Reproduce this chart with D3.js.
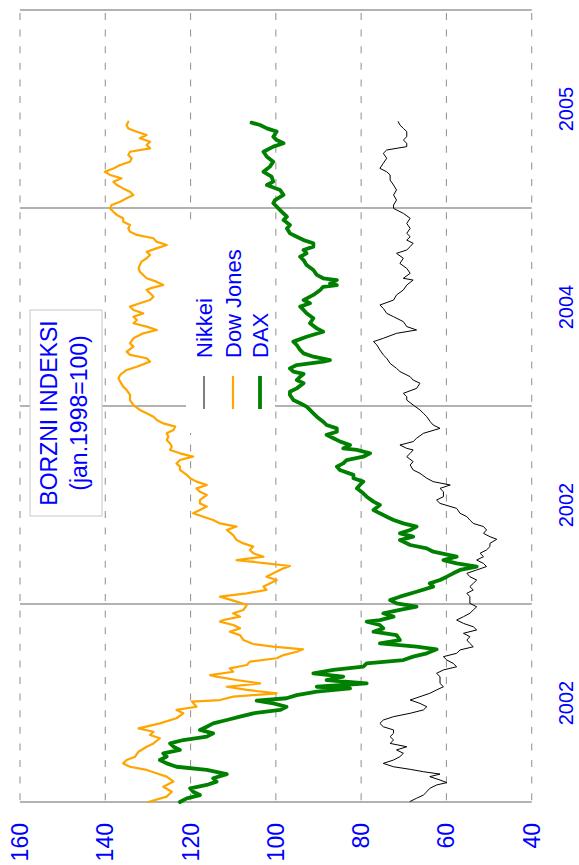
<!DOCTYPE html>
<html><head><meta charset="utf-8">
<script src="https://cdn.jsdelivr.net/npm/d3@7"></script>
<style>body{margin:0;background:#fff}svg{display:block}</style>
</head><body><svg id="c" width="579" height="865"></svg>
<script>
const valueTicks = [160,140,120,100,80,60,40];
const yearBounds = [2001,2002,2003,2004,2005];
const yearLabels = ["2002","2002","2004","2005"];
const legendNames = ["Nikkei","Dow Jones","DAX"];
const seriesColors = ["#000000","#FFA500","#008000"];
const titleLines = ["BORZNI INDEKSI","(jan.1998=100)"];

const nikkei = [[2001.003,68.5],[2001.019,67.0],[2001.035,65.4],[2001.052,64.6],[2001.069,63.9],[2001.086,62.3],[2001.098,59.9],[2001.111,61.5],[2001.128,63.9],[2001.141,61.5],[2001.153,65.4],[2001.165,68.5],[2001.178,72.4],[2001.195,74.8],[2001.212,72.4],[2001.229,70.9],[2001.246,70.1],[2001.263,71.7],[2001.279,69.3],[2001.296,73.2],[2001.313,72.4],[2001.330,73.2],[2001.347,72.4],[2001.364,72.4],[2001.380,74.8],[2001.397,75.6],[2001.414,74.8],[2001.431,72.4],[2001.448,68.5],[2001.465,65.4],[2001.481,64.6],[2001.498,66.2],[2001.515,68.5],[2001.532,66.2],[2001.549,63.9],[2001.566,62.3],[2001.582,60.7],[2001.599,61.5],[2001.616,61.5],[2001.633,61.5],[2001.650,62.3],[2001.667,60.7],[2001.683,57.6],[2001.700,58.4],[2001.717,59.9],[2001.734,60.7],[2001.751,57.6],[2001.768,56.8],[2001.784,53.7],[2001.801,54.5],[2001.818,55.2],[2001.835,54.5],[2001.852,56.0],[2001.869,52.9],[2001.885,53.7],[2001.902,56.0],[2001.919,57.6],[2001.936,56.0],[2001.953,54.5],[2001.970,53.7],[2001.986,52.9],[2002.003,54.5],[2002.020,54.5],[2002.037,54.5],[2002.054,55.2],[2002.071,53.7],[2002.088,54.5],[2002.104,53.7],[2002.121,52.9],[2002.138,54.5],[2002.155,55.2],[2002.172,52.9],[2002.189,50.6],[2002.205,51.3],[2002.222,52.9],[2002.239,51.3],[2002.256,52.1],[2002.273,50.6],[2002.290,49.8],[2002.306,49.8],[2002.327,48.2],[2002.340,49.8],[2002.357,51.3],[2002.374,50.6],[2002.391,51.3],[2002.407,53.7],[2002.424,54.5],[2002.441,55.2],[2002.458,56.8],[2002.483,57.6],[2002.508,61.5],[2002.525,62.3],[2002.542,60.7],[2002.567,60.7],[2002.584,61.5],[2002.601,59.1],[2002.618,63.1],[2002.635,64.6],[2002.660,66.2],[2002.677,67.8],[2002.702,68.5],[2002.719,67.8],[2002.744,69.3],[2002.761,68.5],[2002.778,67.8],[2002.786,69.3],[2002.803,70.9],[2002.820,67.8],[2002.837,67.0],[2002.862,65.4],[2002.887,61.5],[2002.904,63.1],[2002.921,63.8],[2002.946,64.6],[2002.963,65.4],[2002.980,66.2],[2003.005,67.8],[2003.030,69.3],[2003.047,69.3],[2003.064,70.1],[2003.089,67.0],[2003.115,66.2],[2003.131,67.8],[2003.148,68.5],[2003.174,70.9],[2003.190,71.7],[2003.215,73.2],[2003.241,74.0],[2003.258,74.8],[2003.283,75.6],[2003.308,76.3],[2003.325,77.1],[2003.342,74.8],[2003.367,71.7],[2003.384,67.0],[2003.401,69.3],[2003.426,70.1],[2003.451,72.4],[2003.468,74.0],[2003.493,74.8],[2003.510,75.6],[2003.535,72.4],[2003.561,71.7],[2003.586,70.1],[2003.611,69.3],[2003.636,67.8],[2003.645,70.1],[2003.670,68.5],[2003.695,69.3],[2003.720,70.9],[2003.746,70.1],[2003.771,71.7],[2003.788,69.3],[2003.805,68.5],[2003.822,67.8],[2003.838,69.3],[2003.855,68.5],[2003.872,69.3],[2003.897,68.5],[2003.922,69.3],[2003.948,68.5],[2003.973,70.1],[2003.998,72.4],[2004.015,72.4],[2004.040,71.7],[2004.066,72.4],[2004.091,71.7],[2004.116,72.4],[2004.141,73.2],[2004.167,73.2],[2004.183,74.0],[2004.200,75.6],[2004.226,74.8],[2004.251,74.0],[2004.276,74.8],[2004.293,74.0],[2004.310,69.3],[2004.327,69.3],[2004.343,70.1],[2004.360,69.3],[2004.386,69.3],[2004.402,70.1],[2004.419,70.9],[2004.436,71.3]];

const dowJones = [[2001.000,129.9],[2001.027,125.6],[2001.052,124.4],[2001.077,126.4],[2001.103,124.0],[2001.128,125.6],[2001.145,128.0],[2001.162,130.3],[2001.178,134.2],[2001.195,135.8],[2001.212,135.0],[2001.229,133.0],[2001.254,132.2],[2001.279,130.3],[2001.296,128.7],[2001.322,127.2],[2001.338,129.5],[2001.355,128.7],[2001.372,132.2],[2001.397,127.2],[2001.423,123.3],[2001.448,121.7],[2001.465,123.3],[2001.481,118.6],[2001.507,119.7],[2001.515,113.1],[2001.532,110.0],[2001.549,99.8],[2001.566,106.8],[2001.582,111.5],[2001.599,103.7],[2001.616,109.2],[2001.633,113.9],[2001.641,115.4],[2001.658,110.0],[2001.675,110.8],[2001.692,106.8],[2001.709,106.1],[2001.726,99.8],[2001.742,98.2],[2001.759,95.1],[2001.771,93.6],[2001.785,100.6],[2001.798,105.3],[2001.818,107.6],[2001.843,108.4],[2001.860,110.8],[2001.877,108.4],[2001.894,110.0],[2001.911,113.1],[2001.919,112.3],[2001.936,108.4],[2001.953,110.0],[2001.970,107.6],[2001.995,106.8],[2002.012,109.2],[2002.037,113.1],[2002.054,106.8],[2002.071,102.2],[2002.088,102.9],[2002.104,101.4],[2002.121,99.8],[2002.138,102.2],[2002.155,100.6],[2002.180,98.2],[2002.192,96.7],[2002.205,102.2],[2002.222,109.2],[2002.239,102.9],[2002.256,105.3],[2002.273,106.1],[2002.290,105.3],[2002.306,107.6],[2002.323,109.2],[2002.348,110.0],[2002.374,111.5],[2002.391,109.2],[2002.407,113.1],[2002.424,114.7],[2002.441,117.0],[2002.458,119.4],[2002.475,117.8],[2002.492,116.2],[2002.508,117.8],[2002.525,117.8],[2002.551,116.2],[2002.567,117.8],[2002.584,118.6],[2002.601,116.2],[2002.618,118.6],[2002.635,120.1],[2002.652,120.9],[2002.677,122.5],[2002.694,122.5],[2002.710,123.3],[2002.727,122.5],[2002.744,119.4],[2002.761,122.5],[2002.778,124.8],[2002.795,124.4],[2002.811,124.8],[2002.828,125.6],[2002.845,125.2],[2002.862,125.6],[2002.879,124.0],[2002.896,123.6],[2002.912,126.4],[2002.929,127.9],[2002.946,128.7],[2002.963,130.3],[2002.980,131.9],[2003.005,133.4],[2003.030,134.2],[2003.056,134.2],[2003.081,135.0],[2003.098,135.8],[2003.123,136.5],[2003.140,136.9],[2003.157,136.5],[2003.182,135.0],[2003.198,132.6],[2003.224,129.5],[2003.241,130.3],[2003.258,134.2],[2003.274,135.0],[2003.300,133.4],[2003.317,134.2],[2003.342,133.4],[2003.367,131.1],[2003.384,127.9],[2003.401,130.3],[2003.418,133.4],[2003.434,132.6],[2003.451,133.4],[2003.468,131.1],[2003.485,133.4],[2003.502,134.2],[2003.519,131.9],[2003.535,129.5],[2003.552,128.7],[2003.569,129.5],[2003.586,130.3],[2003.594,129.5],[2003.611,126.4],[2003.628,128.0],[2003.645,130.3],[2003.662,131.1],[2003.678,131.9],[2003.695,132.2],[2003.712,131.9],[2003.729,131.5],[2003.746,130.3],[2003.763,129.5],[2003.779,130.3],[2003.796,128.0],[2003.813,125.6],[2003.830,128.0],[2003.847,128.7],[2003.864,132.6],[2003.880,134.2],[2003.897,134.6],[2003.914,134.2],[2003.931,135.8],[2003.948,135.8],[2003.965,137.3],[2003.981,138.1],[2003.998,138.9],[2004.015,138.5],[2004.032,136.5],[2004.049,135.0],[2004.066,133.4],[2004.082,134.2],[2004.099,135.8],[2004.116,137.3],[2004.133,138.1],[2004.150,136.2],[2004.167,138.9],[2004.183,140.1],[2004.200,138.1],[2004.217,136.5],[2004.234,134.2],[2004.251,133.8],[2004.268,134.6],[2004.284,134.2],[2004.301,129.5],[2004.318,130.3],[2004.335,129.5],[2004.352,131.9],[2004.369,130.3],[2004.385,132.6],[2004.402,134.6],[2004.419,135.0],[2004.436,134.6]];

const dax = [[2001.000,122.5],[2001.018,120.9],[2001.035,117.8],[2001.052,119.4],[2001.069,120.1],[2001.086,116.2],[2001.103,113.9],[2001.120,114.7],[2001.141,111.5],[2001.162,116.2],[2001.178,123.3],[2001.195,125.6],[2001.212,127.2],[2001.229,125.6],[2001.246,126.4],[2001.263,122.5],[2001.279,124.0],[2001.296,124.8],[2001.313,121.7],[2001.330,116.2],[2001.347,114.7],[2001.364,117.8],[2001.380,116.2],[2001.397,114.7],[2001.414,111.5],[2001.431,108.4],[2001.448,105.3],[2001.465,99.0],[2001.481,97.5],[2001.498,100.6],[2001.512,104.5],[2001.524,97.5],[2001.540,95.1],[2001.557,90.4],[2001.574,82.6],[2001.582,90.4],[2001.599,78.7],[2001.616,88.1],[2001.633,84.2],[2001.650,91.2],[2001.667,86.5],[2001.684,79.5],[2001.700,78.7],[2001.717,70.1],[2001.734,67.8],[2001.751,64.6],[2001.771,62.3],[2001.785,67.0],[2001.801,75.6],[2001.818,70.9],[2001.843,71.7],[2001.860,77.1],[2001.877,74.8],[2001.894,75.6],[2001.911,78.7],[2001.919,75.6],[2001.936,72.4],[2001.953,74.8],[2001.970,70.9],[2001.987,67.0],[2002.003,71.7],[2002.020,73.2],[2002.037,70.9],[2002.062,67.0],[2002.088,63.1],[2002.104,63.9],[2002.121,61.5],[2002.138,59.9],[2002.155,58.4],[2002.172,56.8],[2002.189,52.9],[2002.205,57.6],[2002.222,60.7],[2002.239,57.6],[2002.264,63.1],[2002.281,64.6],[2002.298,68.5],[2002.323,70.9],[2002.340,67.8],[2002.357,70.9],[2002.374,68.5],[2002.391,67.0],[2002.407,70.1],[2002.424,72.4],[2002.441,74.0],[2002.458,75.6],[2002.475,77.1],[2002.500,75.6],[2002.517,77.1],[2002.542,78.7],[2002.559,79.5],[2002.584,81.0],[2002.601,80.3],[2002.618,79.5],[2002.635,81.8],[2002.652,81.8],[2002.677,85.0],[2002.694,85.7],[2002.710,84.2],[2002.727,83.4],[2002.744,79.5],[2002.761,77.9],[2002.778,81.0],[2002.786,84.2],[2002.803,82.6],[2002.820,84.9],[2002.837,86.5],[2002.854,88.1],[2002.870,85.7],[2002.887,85.7],[2002.904,88.1],[2002.921,88.9],[2002.946,90.4],[2002.963,91.2],[2002.980,92.0],[2002.997,92.8],[2003.014,94.3],[2003.030,95.9],[2003.056,96.7],[2003.072,96.7],[2003.089,95.1],[2003.115,93.5],[2003.131,95.1],[2003.148,94.3],[2003.162,93.5],[2003.174,95.9],[2003.190,96.7],[2003.207,95.1],[2003.224,88.9],[2003.232,87.3],[2003.249,91.2],[2003.266,93.5],[2003.283,94.3],[2003.308,95.1],[2003.325,95.9],[2003.350,92.8],[2003.375,88.9],[2003.392,90.4],[2003.418,92.0],[2003.443,91.2],[2003.468,92.8],[2003.485,93.5],[2003.502,94.3],[2003.519,92.0],[2003.535,93.5],[2003.561,91.2],[2003.586,89.6],[2003.602,88.9],[2003.611,85.7],[2003.619,87.3],[2003.636,85.7],[2003.645,88.9],[2003.662,90.4],[2003.687,91.2],[2003.712,92.8],[2003.737,93.5],[2003.754,94.3],[2003.771,92.8],[2003.788,93.5],[2003.805,91.2],[2003.822,91.2],[2003.838,93.5],[2003.855,95.1],[2003.872,96.7],[2003.897,97.4],[2003.914,96.7],[2003.939,98.2],[2003.956,97.4],[2003.981,98.6],[2004.007,99.8],[2004.024,100.6],[2004.040,100.2],[2004.066,98.2],[2004.091,99.0],[2004.116,102.1],[2004.133,100.6],[2004.158,101.0],[2004.183,102.9],[2004.209,101.4],[2004.234,100.6],[2004.259,102.1],[2004.284,102.9],[2004.310,100.6],[2004.327,98.2],[2004.343,99.8],[2004.360,100.6],[2004.386,99.8],[2004.402,102.1],[2004.419,103.7],[2004.431,105.7]];

const svg = d3.select("#c");
const font = "Liberation Sans, Arial, Helvetica, sans-serif";
const x = d3.scaleLinear().domain([160,40]).range([20,531.7]);
const y = d3.scaleLinear().domain([2001,2005]).range([802,10]);
const gridColor = "#999";

svg.append("g").selectAll("line").data(valueTicks).join("line")
  .attr("x1", d => x(d)).attr("x2", d => x(d))
  .attr("y1", y(2005)).attr("y2", y(2001))
  .attr("stroke", gridColor).attr("stroke-width", 1.1)
  .attr("stroke-dasharray", "7,9.6").attr("stroke-dashoffset", -3);

svg.append("g").selectAll("line").data(yearBounds).join("line")
  .attr("x1", x(160)).attr("x2", x(40))
  .attr("y1", d => y(d)).attr("y2", d => y(d))
  .attr("stroke", gridColor).attr("stroke-width", 1.3);

const tb = svg.append("g");
tb.append("rect").attr("x", 30).attr("y", 310).attr("width", 72).attr("height", 206)
  .attr("fill", "#fff").attr("stroke", "#c8c8c8").attr("stroke-width", 1);
tb.selectAll("text").data(titleLines).join("text")
  .attr("transform", (d,i) => `translate(${[57, 87][i]},${413}) rotate(-90)`)
  .attr("text-anchor", "middle")
  .attr("font-family", font).attr("font-size", 23).attr("fill", "#0000ff")
  .text(d => d);

const lg = svg.append("g");
lg.append("rect").attr("x", 186).attr("y", 228).attr("width", 89).attr("height", 205).attr("fill", "#fff");
const legX = [212, 241, 268];
const legW = [1, 2.2, 3.8];
lg.selectAll("line").data(legendNames).join("line")
  .attr("x1", (d,i) => legX[i] - 8).attr("x2", (d,i) => legX[i] - 8)
  .attr("y1", 376).attr("y2", 409)
  .attr("stroke", (d,i) => seriesColors[i]).attr("stroke-width", (d,i) => legW[i]);
lg.selectAll("text").data(legendNames).join("text")
  .attr("transform", (d,i) => `translate(${legX[i]},358) rotate(-90)`)
  .attr("text-anchor", "start")
  .attr("font-family", font).attr("font-size", 22).attr("fill", "#0000ff")
  .text(d => d);

const line = d3.line().x(d => x(d[1])).y(d => y(d[0]));
const series = [nikkei, dowJones, dax];
svg.append("g").selectAll("path").data(series).join("path")
  .attr("d", line).attr("fill", "none")
  .attr("stroke", (d,i) => seriesColors[i]).attr("stroke-width", (d,i) => legW[i])
  .attr("stroke-linejoin", "round").attr("stroke-linecap", "round");

svg.append("g").selectAll("text").data(valueTicks).join("text")
  .attr("transform", d => `translate(${x(d) + 8},823) rotate(-90)`)
  .attr("text-anchor", "end")
  .attr("font-family", font).attr("font-size", 23).attr("fill", "#0000ff")
  .text(d => d);

svg.append("g").selectAll("text").data(yearLabels).join("text")
  .attr("transform", (d,i) => `translate(573,${y(yearBounds[i] + 0.5)}) rotate(-90)`)
  .attr("text-anchor", "middle")
  .attr("font-family", font).attr("font-size", 20).attr("fill", "#0000ff")
  .text(d => d);
</script></body></html>
